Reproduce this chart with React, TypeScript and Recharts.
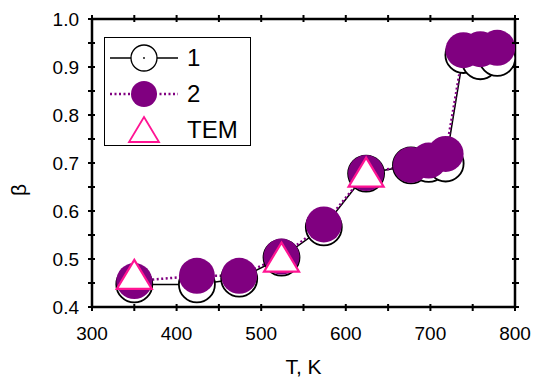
import React from 'react';
import { ComposedChart, Line, XAxis, YAxis, Legend, Label } from 'recharts';

const temperatures = [350, 424, 474, 524, 574, 624, 677, 698, 718, 739, 759, 779];
const series1 = [0.447, 0.447, 0.459, 0.503, 0.566, 0.678, 0.695, 0.698, 0.699, 0.925, 0.912, 0.919];
const series2 = [0.454, 0.465, 0.465, 0.505, 0.572, 0.679, 0.696, 0.705, 0.719, 0.935, 0.937, 0.940];
const temTemperatures = [350, 524, 624];
const temValues = [0.468, 0.504, 0.681];

const xTicks = [300, 350, 400, 450, 500, 550, 600, 650, 700, 750, 800];
const yTicks = [0.4, 0.45, 0.5, 0.55, 0.6, 0.65, 0.7, 0.75, 0.8, 0.85, 0.9, 0.95, 1.0];

const data = temperatures.map((t, i) => {
  const k = temTemperatures.indexOf(t);
  return { T: t, s1: series1[i], s2: series2[i], tem: k >= 0 ? temValues[k] : null };
});

const FONT = '"Liberation Sans", Arial, sans-serif';
const PURPLE = '#800080';
const PINK = '#ff1493';
const R = 18;

const isMajorX = (v: number) => Math.abs(v % 100) < 1e-6;
const isMajorY = (v: number) => Math.abs(Math.round(v * 10) - v * 10) < 1e-6;

const BottomTick = (props: any) => {
  const { x, y, payload } = props;
  const v = payload.value;
  const major = isMajorX(v);
  return (
    <g>
      <line x1={x} x2={x} y1={y - 3} y2={y + 4} stroke="#000" strokeWidth={2} />
      {major && (
        <text x={x} y={y + 33} textAnchor="middle" fontSize={19} fontFamily={FONT} fill="#000">
          {v}
        </text>
      )}
    </g>
  );
};

const TopTick = (props: any) => {
  const { x, y } = props;
  return <line x1={x} x2={x} y1={y - 4} y2={y + 3} stroke="#000" strokeWidth={2} />;
};

const LeftTick = (props: any) => {
  const { x, y, payload } = props;
  const v = payload.value;
  const major = isMajorY(v);
  return (
    <g>
      <line x1={x - 4} x2={x + 3} y1={y} y2={y} stroke="#000" strokeWidth={2} />
      {major && (
        <text x={x - 13} y={y + 7} textAnchor="end" fontSize={19} fontFamily={FONT} fill="#000">
          {v.toFixed(1)}
        </text>
      )}
    </g>
  );
};

const RightTick = (props: any) => {
  const { x, y } = props;
  return <line x1={x - 3} x2={x + 4} y1={y} y2={y} stroke="#000" strokeWidth={2} />;
};

const OpenCircle = (props: any) => {
  const { cx, cy, value } = props;
  if (cx == null || cy == null || value == null) return null;
  return (
    <g>
      <circle cx={cx} cy={cy} r={R} fill="#fff" stroke="#000" strokeWidth={1.8} />
      <circle cx={cx} cy={cy} r={1} fill="#000" />
    </g>
  );
};

const FilledCircle = (props: any) => {
  const { cx, cy, value } = props;
  if (cx == null || cy == null || value == null) return null;
  return <circle cx={cx} cy={cy} r={R} fill={PURPLE} stroke="none" />;
};

const Triangle = (props: any) => {
  const { cx, cy, value } = props;
  if (cx == null || cy == null || value == null) return null;
  const w = 35;
  const h = 29;
  const d = `M${cx},${cy - h / 2} L${cx + w / 2},${cy + h / 2} L${cx - w / 2},${cy + h / 2} Z`;
  return <path d={d} fill="#fff" stroke={PINK} strokeWidth={2.2} strokeLinejoin="miter" />;
};

const LegendContent = () => {
  const rowStyle: React.CSSProperties = { display: 'flex', alignItems: 'center', height: 36 };
  const textStyle: React.CSSProperties = { fontFamily: FONT, fontSize: 24, color: '#000', marginLeft: 9, lineHeight: '28px' };
  return (
    <div
      style={{
        border: '1px solid #000',
        background: '#fff',
        width: 147,
        height: 109,
        boxSizing: 'border-box',
        paddingTop: 2,
        paddingLeft: 5,
      }}
    >
      <div style={rowStyle}>
        <svg width={68} height={32}>
          <line x1={0} x2={68} y1={16} y2={16} stroke="#000" strokeWidth={1.3} />
          <circle cx={34} cy={16} r={13} fill="#fff" stroke="#000" strokeWidth={1.3} />
          <circle cx={34} cy={16} r={0.9} fill="#000" />
        </svg>
        <span style={textStyle}>1</span>
      </div>
      <div style={rowStyle}>
        <svg width={68} height={32}>
          <line x1={0} x2={68} y1={16} y2={16} stroke={PURPLE} strokeWidth={2.5} strokeDasharray="2 2.5" />
          <circle cx={34} cy={16} r={13} fill={PURPLE} />
        </svg>
        <span style={textStyle}>2</span>
      </div>
      <div style={rowStyle}>
        <svg width={68} height={32}>
          <path d="M34,3 L49,28 L19,28 Z" fill="#fff" stroke={PINK} strokeWidth={1.8} />
        </svg>
        <span style={textStyle}>TEM</span>
      </div>
    </div>
  );
};

export default function App() {
  return (
    <div style={{ position: 'absolute', left: 0, top: 0, width: 534, height: 379, background: '#fff' }}>
      <ComposedChart
        width={534}
        height={379}
        data={data}
        margin={{ top: 18, right: 18, bottom: 32, left: 32 }}
      >
        <XAxis
          xAxisId="bottom"
          dataKey="T"
          type="number"
          domain={[300, 800]}
          ticks={xTicks}
          interval={0}
          allowDataOverflow
          height={40}
          tickSize={0}
          tickMargin={0}
          tickLine={false}
          axisLine={{ stroke: '#000', strokeWidth: 2.5 }}
          tick={<BottomTick />}
        >
          <Label
            content={(p: any) => {
              const vb = p.viewBox;
              return (
                <text
                  x={vb.x + vb.width / 2}
                  y={vb.y + 67}
                  textAnchor="middle"
                  fontSize={21}
                  fontFamily={FONT}
                  fill="#000"
                >
                  T, K
                </text>
              );
            }}
          />
        </XAxis>
        <XAxis
          xAxisId="top"
          dataKey="T"
          type="number"
          orientation="top"
          domain={[300, 800]}
          ticks={xTicks}
          interval={0}
          allowDataOverflow
          height={1}
          tickSize={0}
          tickMargin={0}
          tickLine={false}
          axisLine={{ stroke: '#000', strokeWidth: 2.5 }}
          tick={<TopTick />}
        />
        <YAxis
          yAxisId="left"
          type="number"
          domain={[0.4, 1.0]}
          ticks={yTicks}
          interval={0}
          allowDataOverflow
          width={60}
          tickSize={0}
          tickMargin={0}
          tickLine={false}
          axisLine={{ stroke: '#000', strokeWidth: 2.5 }}
          tick={<LeftTick />}
        >
          <Label
            content={() => (
              <text
                x={18}
                y={190}
                transform="rotate(-90 18 190)"
                textAnchor="middle"
                dominantBaseline="central"
                fontSize={21}
                fontFamily={FONT}
                fill="#000"
              >
                β
              </text>
            )}
          />
        </YAxis>
        <YAxis
          yAxisId="right"
          type="number"
          orientation="right"
          domain={[0.4, 1.0]}
          ticks={yTicks}
          interval={0}
          allowDataOverflow
          width={1}
          tickSize={0}
          tickMargin={0}
          tickLine={false}
          axisLine={{ stroke: '#000', strokeWidth: 2.5 }}
          tick={<RightTick />}
        />
        <Legend
          layout="horizontal"
          verticalAlign="middle"
          align="center"
          content={<LegendContent />}
          wrapperStyle={{ position: 'absolute', left: 104, top: 37, width: 147, height: 109 }}
        />
        <Line
          xAxisId="top"
          yAxisId="right"
          type="linear"
          dataKey="s1"
          stroke="none"
          dot={false}
          activeDot={false}
          legendType="none"
          isAnimationActive={false}
        />
        <Line
          xAxisId="bottom"
          yAxisId="left"
          type="linear"
          dataKey="s1"
          stroke="#000"
          strokeWidth={1.5}
          dot={<OpenCircle />}
          activeDot={false}
          isAnimationActive={false}
        />
        <Line
          xAxisId="bottom"
          yAxisId="left"
          type="linear"
          dataKey="s2"
          stroke={PURPLE}
          strokeWidth={2.5}
          strokeDasharray="2 2.5"
          dot={<FilledCircle />}
          activeDot={false}
          isAnimationActive={false}
        />
        <Line
          xAxisId="bottom"
          yAxisId="left"
          type="linear"
          dataKey="tem"
          stroke="none"
          connectNulls={false}
          dot={<Triangle />}
          activeDot={false}
          isAnimationActive={false}
        />
      </ComposedChart>
    </div>
  );
}
